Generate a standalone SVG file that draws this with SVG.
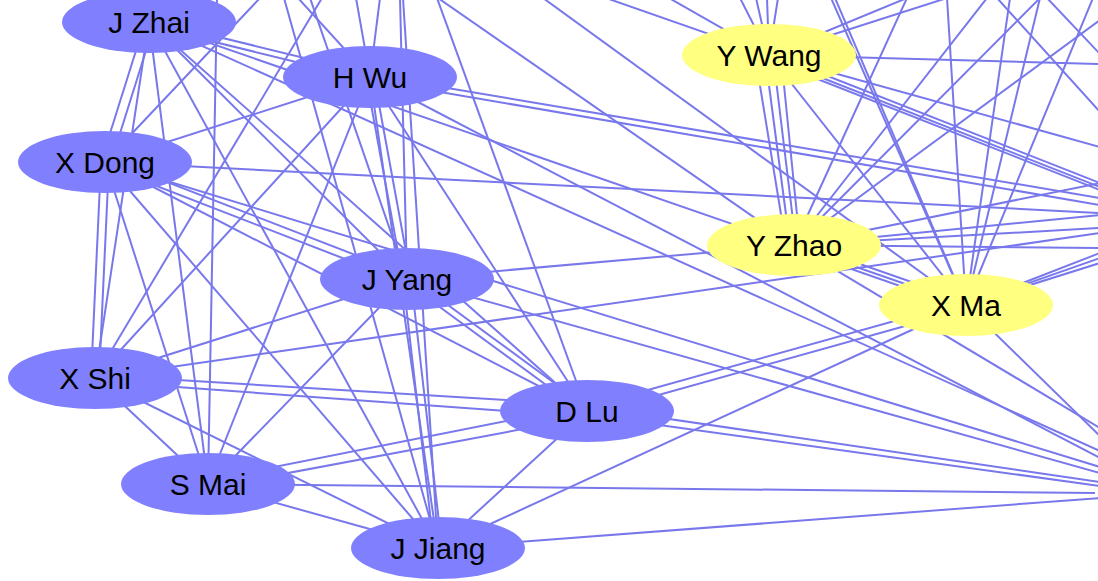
<svg xmlns="http://www.w3.org/2000/svg" width="1098" height="581" viewBox="0 0 1098 581">
<style>
.e line{stroke:#7878ec;stroke-width:2;fill:none}
.b ellipse{fill:#8080ff;stroke:none}
.y ellipse{fill:#ffff80;stroke:none}
text{font-family:"Liberation Sans",Arial,sans-serif;font-size:30px;fill:#000;text-anchor:middle}
</style>
<rect width="1098" height="581" fill="#fff"/>
<g id="edges" class="e">
<line x1="149" y1="20" x2="370" y2="74"/>
<line x1="149" y1="26" x2="370" y2="80"/>
<line x1="145" y1="22" x2="101" y2="162"/>
<line x1="155" y1="22" x2="111" y2="162"/>
<line x1="149" y1="22" x2="407" y2="279"/>
<line x1="149" y1="22" x2="95" y2="378"/>
<line x1="149" y1="22" x2="208" y2="484"/>
<line x1="149" y1="22" x2="438" y2="548"/>
<line x1="149" y1="22" x2="587" y2="411"/>
<line x1="370" y1="77" x2="105" y2="162"/>
<line x1="366" y1="77" x2="403" y2="279"/>
<line x1="374" y1="77" x2="411" y2="279"/>
<line x1="370" y1="77" x2="95" y2="378"/>
<line x1="370" y1="77" x2="208" y2="484"/>
<line x1="370" y1="77" x2="438" y2="548"/>
<line x1="370" y1="77" x2="587" y2="411"/>
<line x1="105" y1="158" x2="407" y2="275"/>
<line x1="105" y1="166" x2="407" y2="283"/>
<line x1="101" y1="162" x2="91" y2="378"/>
<line x1="109" y1="162" x2="99" y2="378"/>
<line x1="105" y1="162" x2="208" y2="484"/>
<line x1="105" y1="162" x2="438" y2="548"/>
<line x1="105" y1="162" x2="587" y2="411"/>
<line x1="407" y1="279" x2="95" y2="378"/>
<line x1="407" y1="279" x2="208" y2="484"/>
<line x1="403" y1="279" x2="434" y2="548"/>
<line x1="411" y1="279" x2="442" y2="548"/>
<line x1="407" y1="275" x2="587" y2="407"/>
<line x1="407" y1="283" x2="587" y2="415"/>
<line x1="95" y1="378" x2="208" y2="484"/>
<line x1="95" y1="378" x2="438" y2="548"/>
<line x1="95" y1="375" x2="587" y2="405"/>
<line x1="95" y1="381" x2="587" y2="417"/>
<line x1="208" y1="484" x2="438" y2="548"/>
<line x1="208" y1="480" x2="587" y2="405"/>
<line x1="208" y1="488" x2="587" y2="417"/>
<line x1="438" y1="548" x2="587" y2="411"/>
<line x1="755" y1="55" x2="786" y2="245"/>
<line x1="765" y1="55" x2="790" y2="245"/>
<line x1="773" y1="55" x2="796" y2="245"/>
<line x1="781" y1="55" x2="800" y2="245"/>
<line x1="769" y1="55" x2="966" y2="305"/>
<line x1="794" y1="241" x2="966" y2="301"/>
<line x1="794" y1="249" x2="966" y2="309"/>
<line x1="407" y1="279" x2="794" y2="245"/>
<line x1="587" y1="407" x2="966" y2="301"/>
<line x1="587" y1="415" x2="966" y2="309"/>
<line x1="438" y1="548" x2="966" y2="305"/>
<line x1="149" y1="22" x2="966" y2="305"/>
<line x1="208" y1="484" x2="217" y2="-2"/>
<line x1="105" y1="162" x2="260" y2="-2"/>
<line x1="438" y1="548" x2="284" y2="-2"/>
<line x1="370" y1="77" x2="298" y2="-2"/>
<line x1="95" y1="378" x2="322" y2="-2"/>
<line x1="407" y1="279" x2="310" y2="-2"/>
<line x1="370" y1="77" x2="356" y2="-2"/>
<line x1="370" y1="77" x2="380" y2="-2"/>
<line x1="407" y1="279" x2="400" y2="-2"/>
<line x1="438" y1="548" x2="403" y2="-2"/>
<line x1="587" y1="411" x2="437" y2="-2"/>
<line x1="794" y1="245" x2="438" y2="-2"/>
<line x1="966" y1="305" x2="543" y2="-2"/>
<line x1="769" y1="55" x2="606" y2="-2"/>
<line x1="769" y1="55" x2="669" y2="-2"/>
<line x1="769" y1="55" x2="740" y2="-2"/>
<line x1="769" y1="55" x2="756" y2="-2"/>
<line x1="769" y1="55" x2="767" y2="-2"/>
<line x1="769" y1="55" x2="778" y2="-2"/>
<line x1="769" y1="55" x2="907" y2="-2"/>
<line x1="769" y1="55" x2="947" y2="-2"/>
<line x1="966" y1="305" x2="831" y2="-2"/>
<line x1="966" y1="305" x2="835" y2="-2"/>
<line x1="794" y1="245" x2="907" y2="-2"/>
<line x1="794" y1="245" x2="987" y2="-2"/>
<line x1="794" y1="245" x2="1040" y2="-2"/>
<line x1="794" y1="245" x2="1100" y2="20"/>
<line x1="966" y1="305" x2="947" y2="-2"/>
<line x1="966" y1="305" x2="1010" y2="-2"/>
<line x1="966" y1="305" x2="1040" y2="-2"/>
<line x1="966" y1="305" x2="1093" y2="-2"/>
<line x1="997" y1="-2" x2="1100" y2="112"/>
<line x1="1047" y1="-2" x2="1100" y2="54"/>
<line x1="769" y1="55" x2="1100" y2="64"/>
<line x1="769" y1="55" x2="1100" y2="147"/>
<line x1="769" y1="53" x2="1100" y2="183"/>
<line x1="769" y1="57" x2="1100" y2="187"/>
<line x1="769" y1="60" x2="1100" y2="190"/>
<line x1="370" y1="75" x2="1100" y2="198"/>
<line x1="370" y1="80" x2="1100" y2="205"/>
<line x1="794" y1="245" x2="1100" y2="183"/>
<line x1="794" y1="245" x2="1100" y2="215"/>
<line x1="794" y1="245" x2="1100" y2="228"/>
<line x1="794" y1="245" x2="1100" y2="248"/>
<line x1="105" y1="162" x2="1100" y2="213"/>
<line x1="95" y1="378" x2="1100" y2="233"/>
<line x1="966" y1="305" x2="1100" y2="253"/>
<line x1="966" y1="305" x2="1100" y2="258"/>
<line x1="966" y1="305" x2="1100" y2="263"/>
<line x1="794" y1="245" x2="1100" y2="428"/>
<line x1="966" y1="305" x2="1100" y2="436"/>
<line x1="149" y1="22" x2="1100" y2="451"/>
<line x1="370" y1="77" x2="1100" y2="458"/>
<line x1="105" y1="162" x2="1100" y2="467"/>
<line x1="407" y1="279" x2="1100" y2="473"/>
<line x1="587" y1="407" x2="1100" y2="482"/>
<line x1="587" y1="415" x2="1100" y2="486"/>
<line x1="208" y1="484" x2="1095" y2="493"/>
<line x1="438" y1="548" x2="1100" y2="498"/>
</g>
<g id="node-jzhai" class="b"><ellipse cx="149" cy="22" rx="87" ry="31"/><text x="149" y="33">J Zhai</text></g>
<g id="node-hwu" class="b"><ellipse cx="370" cy="77" rx="87" ry="31"/><text x="370" y="88">H Wu</text></g>
<g id="node-xdong" class="b"><ellipse cx="105" cy="162" rx="87" ry="31"/><text x="105" y="173">X Dong</text></g>
<g id="node-jyang" class="b"><ellipse cx="407" cy="279" rx="87" ry="31"/><text x="407" y="290">J Yang</text></g>
<g id="node-xshi" class="b"><ellipse cx="95" cy="378" rx="87" ry="31"/><text x="95" y="389">X Shi</text></g>
<g id="node-dlu" class="b"><ellipse cx="587" cy="411" rx="87" ry="31"/><text x="587" y="422">D Lu</text></g>
<g id="node-smai" class="b"><ellipse cx="208" cy="484" rx="87" ry="31"/><text x="208" y="495">S Mai</text></g>
<g id="node-jjiang" class="b"><ellipse cx="438" cy="548" rx="87" ry="31"/><text x="438" y="559">J Jiang</text></g>
<g id="node-ywang" class="y"><ellipse cx="769" cy="55" rx="87" ry="31"/><text x="769" y="66">Y Wang</text></g>
<g id="node-yzhao" class="y"><ellipse cx="794" cy="245" rx="87" ry="31"/><text x="794" y="256">Y Zhao</text></g>
<g id="node-xma" class="y"><ellipse cx="966" cy="305" rx="87" ry="31"/><text x="966" y="316">X Ma</text></g>
</svg>
